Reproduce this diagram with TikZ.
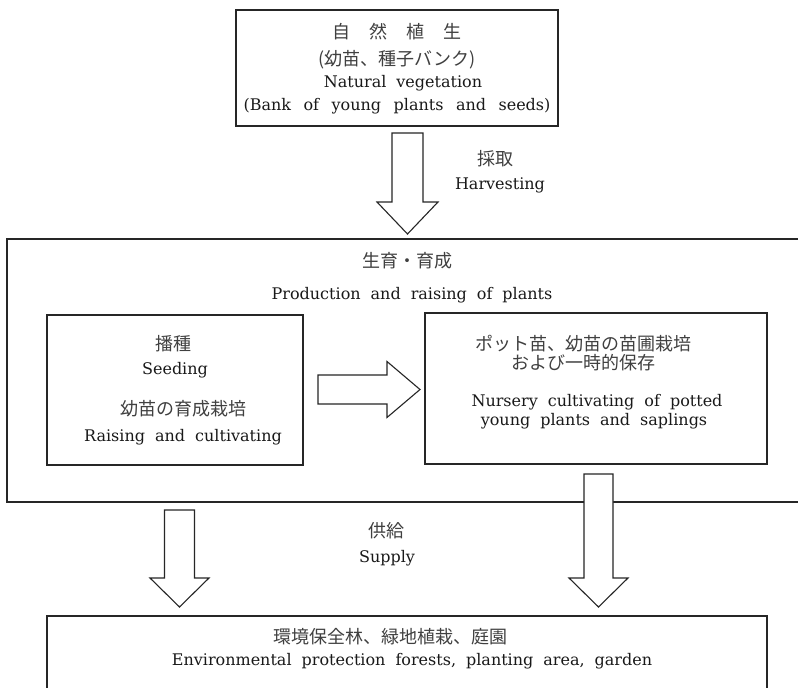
\documentclass[tikz,border=0pt]{standalone}
\usepackage{fontspec}
\newfontfamily\jpfont{Noto Sans CJK JP}
\newfontfamily\enserif{DejaVu Serif}
\newcommand{\enfont}{\enserif\fontsize{16}{19}\selectfont\spaceskip=10pt plus 1pt\relax}
\newcommand{\enbigfont}{\enserif\fontsize{16}{19}\selectfont\spaceskip=10pt plus 1pt\relax}
\newcommand{\enwidefont}{\enserif\fontsize{16}{19}\selectfont\spaceskip=12.5pt plus 1pt\relax}
\newcommand{\hollowarrow}[6]{% #1 tip, #2 rotation, #3 length, #4 half shaft, #5 half head, #6 head length
  \draw[blockarrow, shift={#1}, rotate=#2] (0,0) -- (-#5,-#6) -- (-#4,-#6) -- (-#4,-#3) -- (#4,-#3) -- (#4,-#6) -- (#5,-#6) -- cycle;}
\begin{document}
\begin{tikzpicture}[x=1pt,y=-1pt,
  box/.style={draw=black!85,line width=1.1pt,inner sep=0pt},
  blockarrow/.style={draw=black!85,line width=1.1pt,line join=miter,fill=white},
  jp/.style={font=\jpfont\fontsize{18}{20}\selectfont,inner sep=0pt,text height=14pt,text depth=3pt,text=black!75},
  en/.style={font=\enfont,inner sep=0pt,text height=11pt,text depth=3pt,text=black!90},
  enb/.style={en,font=\enbigfont},
  enw/.style={en,font=\enwidefont},
  ]
\useasboundingbox (0,0) rectangle (798,688);
\fill[white] (0,0) rectangle (798,688);
\clip (0,0) rectangle (798,688);

% boxes
\node[box,minimum width=322pt,minimum height=116pt] (natural) at (397,68) {};
\node[box,minimum width=823pt,minimum height=263pt] (production) at (418.5,370.5) {};
\node[box,minimum width=256pt,minimum height=150pt] (seeding) at (175,390) {};
\node[box,minimum width=342pt,minimum height=151pt] (nursery) at (596,388.5) {};
\node[box,minimum width=720pt,minimum height=104pt] (env) at (407,668) {};

% texts: natural vegetation
\node[jp] (t1) at (397,33) {自\hspace{19pt}然\hspace{19pt}植\hspace{19pt}生};
\node[jp] (t2) at (397,60) {(幼苗、種子バンク)};
\node[enb] (t3) at (403,83) {Natural vegetation};
\node[enw] (t4) at (397,106) {(Bank of young plants and seeds)};

% harvesting
\node[jp] (h1) at (495,160) {採取};
\node[en] (h2) at (500,185) {Harvesting};

% production
\node[jp] (p1) at (407,262) {生育・育成};
\node[en] (p2) at (412,295) {Production and raising of plants};

% seeding box
\node[jp] (s1) at (173,345) {播種};
\node[en] (s2) at (175,370) {Seeding};
\node[jp] (s3) at (183,410) {幼苗の育成栽培};
\node[en] (s4) at (183,437) {Raising and cultivating};

% nursery box
\node[jp] (n1) at (583,345) {ポット苗、幼苗の苗圃栽培};
\node[jp] (n2) at (583,364) {および一時的保存};
\node[en] (n3) at (597,402) {Nursery cultivating of potted};
\node[en] (n4) at (594,421) {young plants and saplings};

% supply
\node[jp] (u1) at (386,532) {供給};
\node[en] (u2) at (387,558) {Supply};

% environment box
\node[jp] (e1) at (390,638) {環境保全林、緑地植栽、庭園};
\node[en] (e2) at (412,661) {Environmental protection forests, planting area, garden};

% block arrows (tips)
\coordinate (harvestTip) at (407.5,234);
\coordinate (growTip) at (420,389.5);
\coordinate (supplyLTip) at (179.5,607);
\coordinate (supplyRTip) at (598.5,607);
\hollowarrow{(harvestTip)}{0}{101}{15.5}{30.5}{32}
\hollowarrow{(growTip)}{90}{102}{14.5}{28}{33}
\hollowarrow{(supplyLTip)}{0}{97}{15}{29.5}{29}
\hollowarrow{(supplyRTip)}{0}{133}{14.5}{29.5}{29}
\end{tikzpicture}
\end{document}
